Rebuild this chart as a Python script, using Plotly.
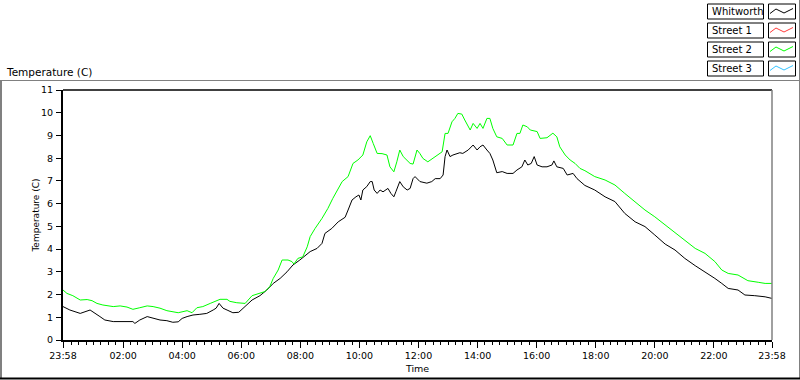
import plotly.graph_objects as go
from datetime import datetime, timedelta

# ---------------- data ----------------
series_names = ["Whitworth", "Street 1", "Street 2", "Street 3"]
series_colors = ["#000000", "#FF3B3B", "#00FF00", "#33C4FF"]

whitworth_time = ["23:58", "00:12", "00:33", "00:53", "01:13", "01:23", "01:40", "02:20", "02:24", "02:34",
                  "02:49", "03:01", "03:15", "03:29", "03:41", "03:52", "04:00", "04:10", "04:22", "04:36",
                  "04:50", "05:03", "05:09", "05:15", "05:23", "05:33", "05:43", "05:55", "06:02", "06:22",
                  "06:38", "06:52", "07:05", "07:19", "07:33", "07:45", "07:59", "08:09", "08:20", "08:34",
                  "08:44", "08:50", "09:04", "09:17", "09:31", "09:37", "09:45", "09:53", "09:59", "10:03",
                  "10:07", "10:15", "10:22", "10:26", "10:30", "10:36", "10:42", "10:48", "10:58", "11:04",
                  "11:10", "11:14", "11:22", "11:29", "11:37", "11:43", "11:49", "11:53", "12:03", "12:17",
                  "12:27", "12:34", "12:44", "12:50", "12:54", "12:58", "13:04", "13:10", "13:18", "13:24",
                  "13:30", "13:41", "13:51", "13:59", "14:05", "14:11", "14:19", "14:25", "14:31", "14:39",
                  "14:50", "15:00", "15:12", "15:20", "15:30", "15:36", "15:42", "15:49", "15:55", "16:01",
                  "16:11", "16:21", "16:31", "16:35", "16:41", "16:54", "17:02", "17:14", "17:22", "17:28",
                  "17:38", "17:58", "18:19", "18:39", "18:59", "19:20", "19:40", "20:00", "20:21", "20:41",
                  "21:01", "21:22", "21:42", "22:02", "22:16", "22:29", "22:49", "23:03", "23:23", "23:44",
                  "23:58"]
whitworth_temp = [1.47, 1.32, 1.17, 1.32, 1.03, 0.88, 0.81, 0.81, 0.73, 0.88,
                  1.03, 0.95, 0.88, 0.85, 0.78, 0.80, 0.95, 1.03, 1.10, 1.13,
                  1.17, 1.32, 1.40, 1.61, 1.40, 1.30, 1.20, 1.22, 1.36, 1.76,
                  1.95, 2.20, 2.49, 2.71, 3.00, 3.30, 3.52, 3.70, 3.89, 4.03,
                  4.25, 4.69, 4.91, 5.20, 5.40, 5.72, 6.16, 6.30, 6.38, 6.16,
                  6.60, 6.75, 6.97, 6.97, 6.60, 6.45, 6.60, 6.52, 6.67, 6.45,
                  6.30, 6.52, 6.97, 6.74, 6.60, 6.67, 7.10, 7.19, 6.97, 6.90,
                  6.97, 7.10, 7.10, 7.26, 8.07, 8.36, 8.07, 8.14, 8.21, 8.24,
                  8.21, 8.36, 8.58, 8.36, 8.50, 8.58, 8.36, 8.21, 7.92, 7.36,
                  7.41, 7.33, 7.33, 7.48, 7.62, 7.92, 7.70, 7.77, 8.07, 7.70,
                  7.62, 7.62, 7.70, 7.88, 7.62, 7.55, 7.26, 7.33, 7.10, 6.97,
                  6.80, 6.60, 6.30, 6.09, 5.57, 5.20, 4.99, 4.62, 4.22, 3.96,
                  3.59, 3.27, 3.00, 2.71, 2.49, 2.27, 2.20, 1.98, 1.95, 1.90,
                  1.83]

street2_time = ["23:58", "00:06", "00:18", "00:33", "00:47", "00:57", "01:07", "01:19", "01:40", "01:54",
                "02:08", "02:20", "02:34", "02:49", "03:01", "03:15", "03:29", "03:41", "03:52", "04:10",
                "04:20", "04:30", "04:42", "04:57", "05:11", "05:17", "05:31", "05:37", "05:51", "06:08",
                "06:22", "06:34", "06:48", "06:58", "07:05", "07:15", "07:23", "07:35", "07:43", "07:47",
                "07:55", "08:05", "08:14", "08:20", "08:30", "08:44", "08:56", "09:06", "09:17", "09:25",
                "09:37", "09:47", "09:57", "10:07", "10:15", "10:22", "10:28", "10:36", "10:46", "10:56",
                "11:02", "11:10", "11:16", "11:22", "11:29", "11:37", "11:43", "11:49", "11:57", "12:03",
                "12:09", "12:19", "12:29", "12:38", "12:48", "12:54", "13:00", "13:08", "13:14", "13:20",
                "13:28", "13:34", "13:45", "13:51", "13:59", "14:05", "14:11", "14:19", "14:25", "14:31",
                "14:39", "14:50", "15:00", "15:12", "15:20", "15:26", "15:32", "15:41", "15:47", "16:01",
                "16:07", "16:21", "16:27", "16:33", "16:41", "16:47", "16:58", "17:08", "17:18", "17:28",
                "17:38", "17:58", "18:19", "18:39", "18:59", "19:20", "19:40", "20:00", "20:21", "20:41",
                "21:01", "21:22", "21:42", "22:02", "22:16", "22:29", "22:49", "23:09", "23:30", "23:44",
                "23:58"]
street2_temp = [2.20, 2.05, 1.95, 1.76, 1.78, 1.73, 1.61, 1.54, 1.47, 1.50,
                1.45, 1.35, 1.42, 1.50, 1.47, 1.40, 1.29, 1.25, 1.20, 1.29,
                1.20, 1.42, 1.47, 1.61, 1.73, 1.79, 1.79, 1.70, 1.64, 1.61,
                1.95, 2.02, 2.13, 2.35, 2.71, 3.08, 3.52, 3.52, 3.45, 3.34,
                3.59, 3.66, 4.10, 4.55, 4.91, 5.35, 5.79, 6.23, 6.67, 6.97,
                7.19, 7.77, 7.92, 8.14, 8.72, 8.99, 8.65, 8.21, 8.20, 8.14,
                7.62, 7.40, 7.84, 8.36, 8.07, 7.92, 7.77, 7.74, 8.36, 8.20,
                7.99, 7.84, 7.99, 8.14, 8.28, 9.09, 9.09, 9.60, 9.75, 9.97,
                9.94, 9.68, 9.24, 9.53, 9.31, 9.53, 9.31, 9.75, 9.75, 9.31,
                8.94, 8.87, 8.58, 8.58, 9.09, 9.09, 9.46, 9.38, 9.24, 9.17,
                8.87, 8.90, 9.02, 9.10, 8.94, 8.50, 8.14, 7.92, 7.77, 7.55,
                7.45, 7.19, 7.04, 6.82, 6.45, 6.09, 5.72, 5.42, 5.06, 4.72,
                4.40, 4.03, 3.81, 3.45, 3.08, 2.93, 2.86, 2.61, 2.54, 2.49,
                2.49]

x_tick_labels = ["23:58", "02:00", "04:00", "06:00", "08:00", "10:00", "12:00",
                 "14:00", "16:00", "18:00", "20:00", "22:00", "23:58"]
y_ticks = list(range(0, 12))

# ---------------- helpers ----------------
BASE = datetime(2009, 1, 1)


def to_datetimes(clocks):
    out, day, prev = [], 0, None
    for c in clocks:
        h, m = map(int, c.split(":"))
        mins = h * 60 + m
        if prev is not None and mins < prev:
            day += 1
        prev = mins
        out.append(BASE + timedelta(days=day, minutes=mins))
    return out


tick_dts = to_datetimes(x_tick_labels)
x_start, x_end = tick_dts[0], tick_dts[-1]

W, H = 800, 380
L, R, T, B = 63, 772, 90, 340  # plot area in pixels


def px(x):
    return (x - L) / (R - L)


def py(y):
    return (B - y) / (B - T)


FONT = "DejaVu Sans"

fig = go.Figure()
fig.add_trace(go.Scatter(x=to_datetimes(whitworth_time), y=whitworth_temp, mode="lines",
                         line=dict(color=series_colors[0], width=1), name=series_names[0],
                         showlegend=False))
fig.add_trace(go.Scatter(x=to_datetimes(street2_time), y=street2_temp, mode="lines",
                         line=dict(color=series_colors[2], width=1), name=series_names[2],
                         showlegend=False))

shapes = []
# outer frame
shapes.append(dict(type="line", xref="paper", yref="paper", x0=px(0), x1=px(800), y0=py(80.5), y1=py(80.5),
                   line=dict(color="#808080", width=1)))
shapes.append(dict(type="line", xref="paper", yref="paper", x0=px(1), x1=px(1), y0=py(80), y1=py(378),
                   line=dict(color="#808080", width=2)))
shapes.append(dict(type="line", xref="paper", yref="paper", x0=px(799.5), x1=px(799.5), y0=py(0), y1=py(378),
                   line=dict(color="#808080", width=1)))
shapes.append(dict(type="line", xref="paper", yref="paper", x0=px(0), x1=px(800), y0=py(378.5), y1=py(378.5),
                   line=dict(color="#000000", width=2)))
# plot area top / right
shapes.append(dict(type="line", xref="paper", yref="paper", x0=0, x1=1, y0=1, y1=1,
                   line=dict(color="#000000", width=1.5)))
shapes.append(dict(type="line", xref="paper", yref="paper", x0=1, x1=1, y0=0, y1=1,
                   line=dict(color="#808080", width=1.5)))

annotations = []
# legend boxes
for i, (name, col) in enumerate(zip(series_names, series_colors)):
    top = 4 + 19 * i
    bot = top + 15
    shapes.append(dict(type="rect", xref="paper", yref="paper", x0=px(707.5), x1=px(763.5),
                       y0=py(bot), y1=py(top), line=dict(color="#000000", width=1), fillcolor="white"))
    shapes.append(dict(type="rect", xref="paper", yref="paper", x0=px(768.5), x1=px(795.5),
                       y0=py(bot), y1=py(top), line=dict(color="#000000", width=1), fillcolor="white"))
    pts = [(770, top + 9.5), (776, top + 5), (784, top + 9), (793, top + 4.5)]
    path = "M " + " L ".join(f"{px(a):.5f},{py(b):.5f}" for a, b in pts)
    shapes.append(dict(type="path", xref="paper", yref="paper", path=path,
                       line=dict(color=col, width=1)))
    annotations.append(dict(text=name, xref="paper", yref="paper", x=px(709.5), y=py(top + 7.5),
                            xanchor="left", yanchor="middle", showarrow=False,
                            font=dict(family=FONT, size=10, color="black")))

annotations.append(dict(text="Temperature (C)", xref="paper", yref="paper", x=px(4), y=py(72),
                        xanchor="left", yanchor="middle", showarrow=False,
                        font=dict(family=FONT, size=10.5, color="black")))

fig.update_layout(
    width=W, height=H,
    margin=dict(l=L, r=W - R, t=T, b=H - B, pad=0),
    paper_bgcolor="white", plot_bgcolor="white",
    showlegend=False,
    shapes=shapes, annotations=annotations,
    font=dict(family=FONT, size=9.5, color="black"),
)
fig.update_xaxes(
    type="date", range=[x_start, x_end], automargin=False,
    tickmode="array", tickvals=tick_dts, ticktext=x_tick_labels,
    ticks="outside", ticklen=6, tickwidth=1, tickcolor="black",
    ticklabelstandoff=0,
    showline=True, linecolor="black", linewidth=2,
    showgrid=False, zeroline=False,
    tickfont=dict(family=FONT, size=9.5),
    title=dict(text="Time", font=dict(family=FONT, size=9.5), standoff=5),
    minor=dict(ticks="outside", ticklen=3, tickwidth=1, tickcolor="black",
               dtick=15 * 60 * 1000, tick0="2009-01-01 00:00", showgrid=False),
)
fig.update_yaxes(
    range=[0, 11], automargin=False, tickmode="array", tickvals=y_ticks,
    ticks="outside", ticklen=5, tickwidth=1, tickcolor="black",
    ticklabelstandoff=1,
    showline=True, linecolor="black", linewidth=2,
    showgrid=False, zeroline=False,
    tickfont=dict(family=FONT, size=9.5),
    title=dict(text="Temperature (C)", font=dict(family=FONT, size=9), standoff=0),
)

fig.write_html("out.html", config={"displayModeBar": False},
               post_script="document.body.style.margin='0';document.body.style.overflow='hidden';")
